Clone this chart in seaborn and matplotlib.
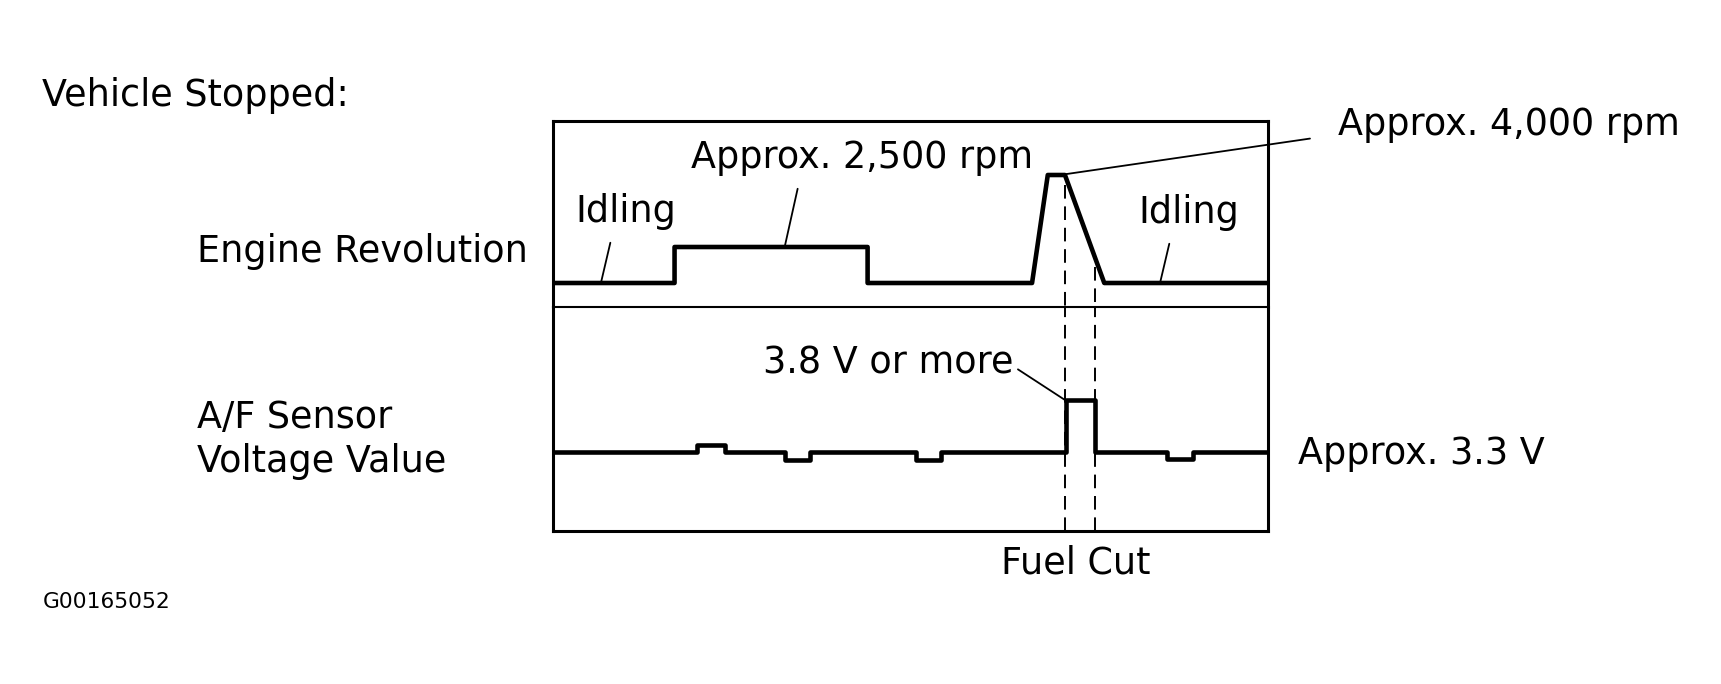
import seaborn as sns
import matplotlib.pyplot as plt

W, H = 1721, 684

# engine revolution trace: time (% of record) and rpm as drawn
eng_time = [0, 17, 17, 44, 44, 67, 69.2, 71.6, 77.1, 100]
eng_rpm = [1750, 1750, 2500, 2500, 1750, 1750, 4000, 4000, 1750, 1750]

# A/F sensor voltage, value holds until next time point
af_time = [0, 20.1, 24.1, 32.4, 35.9, 50.8, 54.3, 71.7, 75.8, 85.9, 89.5, 100]
af_volt = [3.3, 3.37, 3.3, 3.22, 3.3, 3.22, 3.3, 3.8, 3.3, 3.23, 3.3, 3.3]

# fuel cut start / end
cut_time = [71.6, 75.8]

sns.set_style('white')
plt.rcParams['font.family'] = ['DejaVu Sans']
plt.rcParams['text.color'] = 'black'
FS = 26.3


def fx(x, y):
    # image pixel -> figure fraction
    return x / W, 1 - y / H


fig = plt.figure(figsize=(W / 100, H / 100), dpi=100)
top = fig.add_axes([553 / W, 1 - 307 / H, 715 / W, 186 / H])
bot = fig.add_axes([553 / W, 1 - 531 / H, 715 / W, 224 / H])

sns.lineplot(x=eng_time, y=eng_rpm, estimator=None, sort=False, ax=top,
             color='black', lw=3.3)
sns.lineplot(x=af_time, y=af_volt, estimator=None, sort=False, ax=bot,
             color='black', lw=3.3, drawstyle='steps-post')

top.set_xlim(0, 100)
top.set_ylim(1250, 5125)
bot.set_xlim(0, 100)
bot.set_ylim(2.54, 4.694)

# fuel cut markers
dash = (0, (7, 4))
top.vlines(cut_time, [3790, 2080], 1250, colors='black', lw=1.4, linestyles=[dash])
for t in cut_time:
    bot.axvline(t, color='black', lw=1.4, linestyle=dash, zorder=1)

for ax in (top, bot):
    ax.set_xticks([])
    ax.set_yticks([])
    ax.set_xlabel('')
    ax.set_ylabel('')
    for s in ax.spines.values():
        s.set_color('black')
        s.set_linewidth(2.2)
top.spines['bottom'].set_visible(False)
bot.spines['top'].set_linewidth(1.5)

# labels
fig.text(*fx(42, 106), 'Vehicle Stopped:', fontsize=FS, va='baseline')
fig.text(*fx(197, 262), 'Engine Revolution', fontsize=FS, va='baseline')
fig.text(*fx(197, 428), 'A/F Sensor', fontsize=FS, va='baseline')
fig.text(*fx(197, 472), 'Voltage Value', fontsize=FS, va='baseline')
fig.text(*fx(1298, 464), 'Approx. 3.3 V', fontsize=FS, va='baseline')
fig.text(*fx(1001, 573), 'Fuel Cut', fontsize=FS, va='baseline')
fig.text(*fx(43, 608), 'G00165052', fontsize=15.7, va='baseline')


def lead(ax, txt, xy, pos, relpos, shrink):
    ax.annotate(txt, xy=xy, xytext=fx(*pos), textcoords='figure fraction',
                fontsize=FS, va='baseline', annotation_clip=False,
                arrowprops=dict(arrowstyle='-', color='black', lw=1.3,
                                relpos=relpos, shrinkA=shrink, shrinkB=0))


lead(top, 'Idling', (6.7, 1750), (575, 222), (0.38, 0), 7)
lead(top, 'Approx. 2,500 rpm', (32.4, 2500), (691, 168), (0.32, 0), 7)
lead(top, 'Idling', (84.9, 1750), (1138, 223), (0.34, 0), 7)
lead(top, 'Approx. 4,000 rpm', (70.9, 4000), (1338, 135), (0, 0.23), 18)
lead(bot, '3.8 V or more', (71.6, 3.8), (763, 374), (1, 0.42), 1)

fig.savefig('out.png', dpi=100)
